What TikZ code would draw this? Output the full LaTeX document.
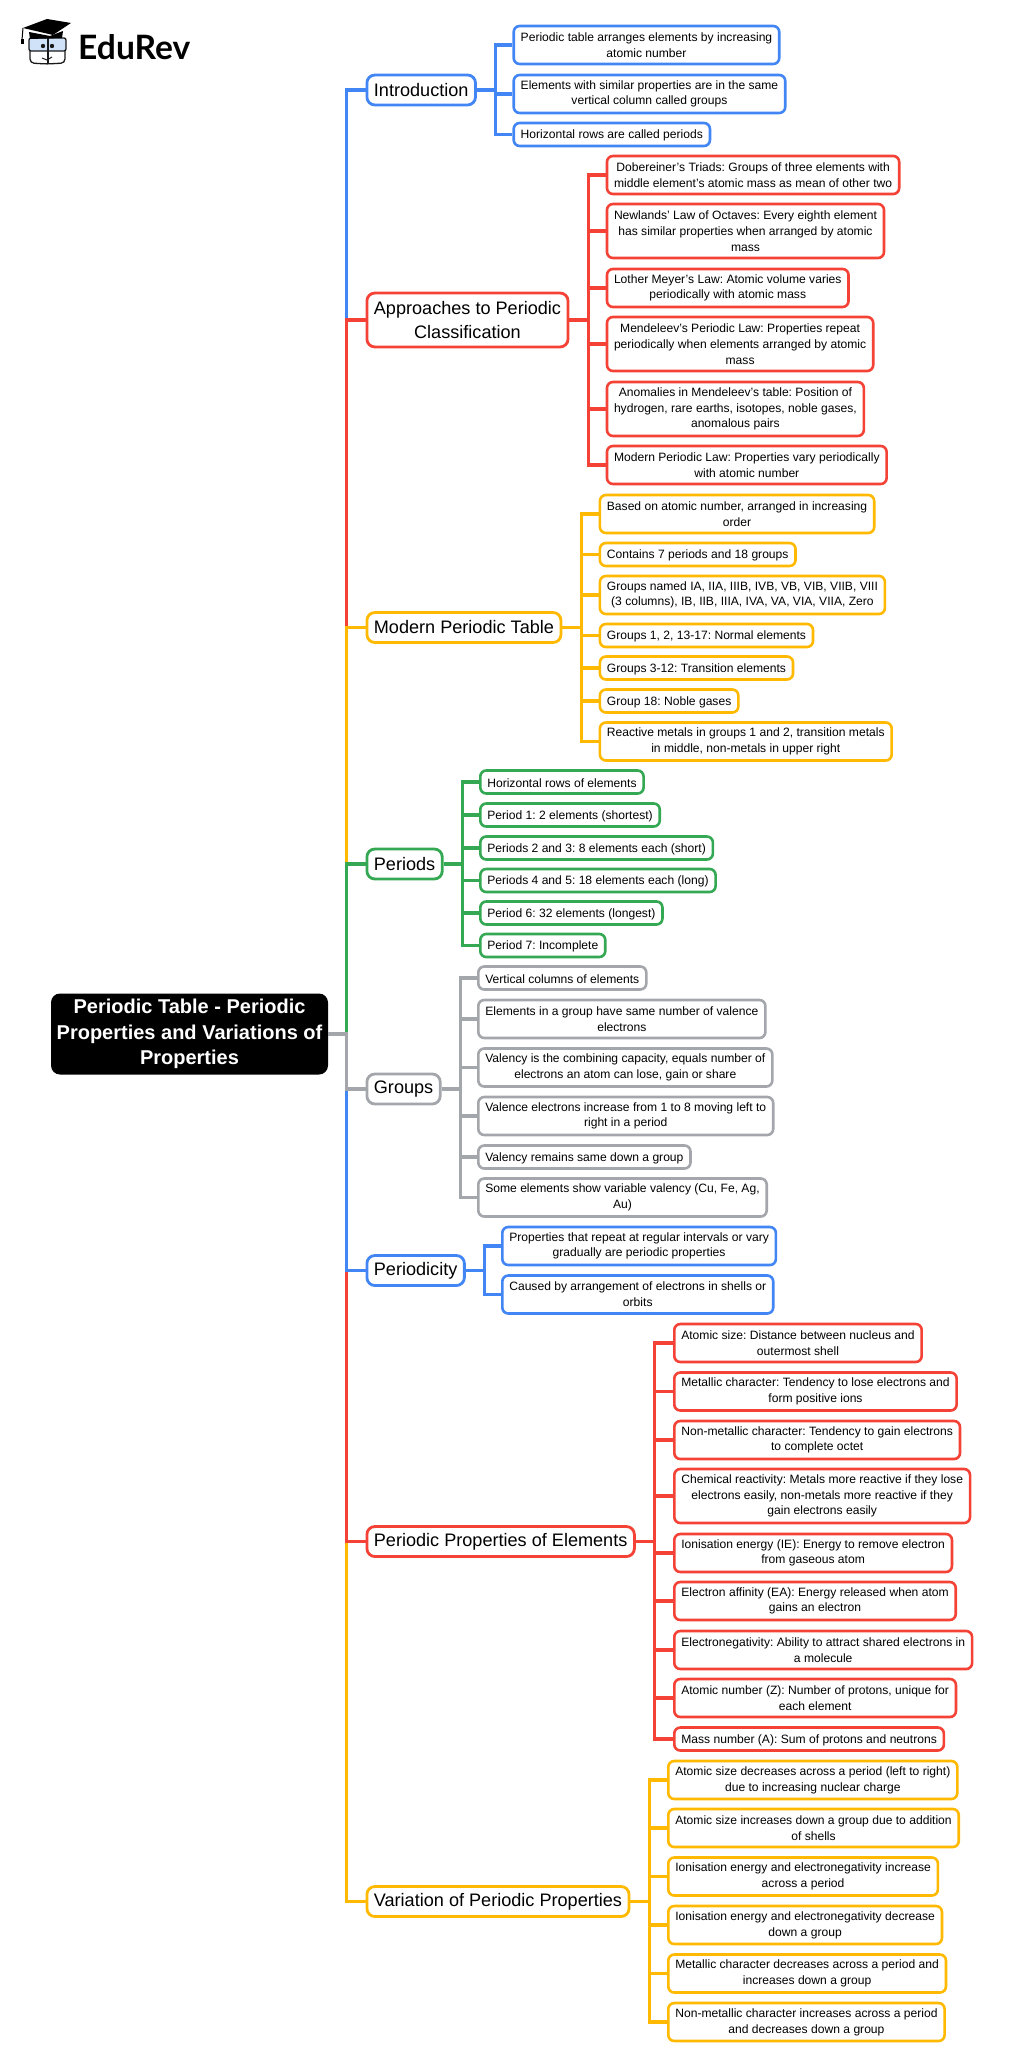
\documentclass[tikz,border=0pt]{standalone}
\usepackage{fontspec}
\setmainfont{Liberation Sans}
\newfontfamily\logofont{Lato}
\usetikzlibrary{positioning}

\definecolor{treeblue}{HTML}{4285F4}
\definecolor{treered}{HTML}{F44336}
\definecolor{treeyellow}{HTML}{FFB900}
\definecolor{treegreen}{HTML}{34A853}
\definecolor{treegray}{HTML}{A3A6AA}
\definecolor{glass}{HTML}{CFE2F7}
\definecolor{inkdark}{HTML}{1A1A1A}

\begin{document}
\frenchspacing
\begin{tikzpicture}[
        x=1pt, y=-1pt,
        root_node/.style = {
            fill=black,
            text=white,
            rectangle,
            rounded corners=9pt,
            minimum width=277pt,
            minimum height=81pt,
            inner sep=0pt,
            align=center,
            execute at begin node={\rule{0pt}{20.5pt}},
            font=\bfseries\fontsize{20}{25.7}\selectfont
        },
        topic_node/.style = {
            draw,
            fill=white,
            rectangle,
            anchor=west,
            line width=2.8pt,
            rounded corners=8pt,
            inner xsep=7pt,
            inner ysep=0pt,
            minimum height=30pt,
            align=center,
            font=\fontsize{18.1}{23.5}\selectfont
        },
        leaf_node/.style = {
            draw,
            fill=white,
            rectangle,
            anchor=west,
            line width=2.6pt,
            rounded corners=6pt,
            inner xsep=7pt,
            inner ysep=0pt,
            minimum height=23pt,
            align=center,
            execute at begin node={\rule{0pt}{10.5pt}},
            font=\fontsize{12.1}{15.7}\selectfont
        },
        two_line/.style = {minimum height=38pt},
        three_line/.style = {minimum height=54pt},
        blue_leaf/.style = {leaf_node, draw=treeblue},
        red_leaf/.style = {leaf_node, draw=treered},
        yellow_leaf/.style = {leaf_node, draw=treeyellow},
        green_leaf/.style = {leaf_node, draw=treegreen},
        gray_leaf/.style = {leaf_node, draw=treegray},
        blue_link/.style = {draw=treeblue, line width=3.2pt},
        red_link/.style = {draw=treered, line width=3.2pt},
        yellow_link/.style = {draw=treeyellow, line width=3.2pt},
        green_link/.style = {draw=treegreen, line width=3.2pt},
        gray_link/.style = {draw=treegray, line width=3.2pt}
    ]

    \useasboundingbox (0,0) rectangle (1024,2068);

    % logo
    \node[anchor=west, inner sep=0pt, font=\logofont\bfseries\fontsize{33.6}{33.6}\selectfont] (logo) at (78,47) {EduRev};
    \draw[inkdark, line width=1.3pt, fill=glass, rounded corners=2pt] (29,38) rectangle (66,51);
    \draw[inkdark, line width=1.3pt, rounded corners=4pt] (30,51) -- (30,63) -- (47,64) -- (65,63) -- (65,51);
    \draw[inkdark, line width=1.1pt] (48,38) -- (48,64);
    \draw[inkdark, line width=1pt] (42,58) -- (47,60) -- (52,57);
    \fill[inkdark] (43,46) circle (2.2pt) (52,46) circle (2.2pt);
    \fill[black] (29,32) -- (30,39) -- (62,38) -- (63,31) -- (50,36) -- cycle;
    \fill[black] (23,28) -- (47,19) -- (71,23) -- (53,35) -- cycle;
    \draw[black, line width=1pt] (23,28) -- (22,40);
    \fill[black] (20.5,39) rectangle (23.5,44.5);

    \node[root_node] (root) at (189.5,1034) {Periodic Table - Periodic\\Properties and Variations of\\Properties};

    \node[topic_node, draw=treeblue] (intro) at (365.5,90) {Introduction};
    \node[topic_node, draw=treered, minimum height=54pt] (approach) at (365.5,320) {Approaches to Periodic\\Classification};
    \node[topic_node, draw=treeyellow] (modern) at (365.5,627.5) {Modern Periodic Table};
    \node[topic_node, draw=treegreen] (periods) at (365.5,864) {Periods};
    \node[topic_node, draw=treegray] (groups) at (365.5,1089) {Groups};
    \node[topic_node, draw=treeblue] (periodicity) at (365.5,1270.5) {Periodicity};
    \node[topic_node, draw=treered] (properties) at (365.5,1541.5) {Periodic Properties of Elements};
    \node[topic_node, draw=treeyellow] (variation) at (365.5,1901.5) {Variation of Periodic Properties};

    \node[blue_leaf, two_line] (intro1) at (512.4,45) {Periodic table arranges elements by increasing\\atomic number};
    \node[blue_leaf, two_line] (intro2) at (512.4,94) {Elements with similar properties are in the same\\vertical column called groups};
    \node[blue_leaf] (intro3) at (512.4,134.5) {Horizontal rows are called periods};

    \node[red_leaf, two_line] (approach1) at (605.7,175) {Dobereiner's Triads: Groups of three elements with\\middle element's atomic mass as mean of other two};
    \node[red_leaf, three_line] (approach2) at (605.7,231) {Newlands' Law of Octaves: Every eighth element\\has similar properties when arranged by atomic\\mass};
    \node[red_leaf, two_line] (approach3) at (605.7,288) {Lother Meyer's Law: Atomic volume varies\\periodically with atomic mass};
    \node[red_leaf, three_line] (approach4) at (605.7,344) {Mendeleev's Periodic Law: Properties repeat\\periodically when elements arranged by atomic\\mass};
    \node[red_leaf, three_line] (approach5) at (605.7,409) {Anomalies in Mendeleev's table: Position of\\hydrogen, rare earths, isotopes, noble gases,\\anomalous pairs};
    \node[red_leaf, two_line] (approach6) at (605.7,465) {Modern Periodic Law: Properties vary periodically\\with atomic number};

    \node[yellow_leaf, two_line] (modern1) at (598.6,514) {Based on atomic number, arranged in increasing\\order};
    \node[yellow_leaf] (modern2) at (598.6,554.5) {Contains 7 periods and 18 groups};
    \node[yellow_leaf, two_line] (modern3) at (598.6,595) {Groups named IA, IIA, IIIB, IVB, VB, VIB, VIIB, VIII\\(3 columns), IB, IIB, IIIA, IVA, VA, VIA, VIIA, Zero};
    \node[yellow_leaf] (modern4) at (598.6,635.5) {Groups 1, 2, 13-17: Normal elements};
    \node[yellow_leaf] (modern5) at (598.6,668) {Groups 3-12: Transition elements};
    \node[yellow_leaf] (modern6) at (598.6,701) {Group 18: Noble gases};
    \node[yellow_leaf, two_line] (modern7) at (598.6,741.5) {Reactive metals in groups 1 and 2, transition metals\\in middle, non-metals in upper right};

    \node[green_leaf] (period1) at (479,782) {Horizontal rows of elements};
    \node[green_leaf] (period2) at (479,815) {Period 1: 2 elements (shortest)};
    \node[green_leaf] (period3) at (479,848) {Periods 2 and 3: 8 elements each (short)};
    \node[green_leaf] (period4) at (479,880.5) {Periods 4 and 5: 18 elements each (long)};
    \node[green_leaf] (period5) at (479,913) {Period 6: 32 elements (longest)};
    \node[green_leaf] (period6) at (479,945.5) {Period 7: Incomplete};

    \node[gray_leaf] (group1) at (477,978) {Vertical columns of elements};
    \node[gray_leaf, two_line] (group2) at (477,1019) {Elements in a group have same number of valence\\electrons};
    \node[gray_leaf, two_line] (group3) at (477,1067.5) {Valency is the combining capacity, equals number of\\electrons an atom can lose, gain or share};
    \node[gray_leaf, two_line] (group4) at (477,1116) {Valence electrons increase from 1 to 8 moving left to\\right in a period};
    \node[gray_leaf] (group5) at (477,1157) {Valency remains same down a group};
    \node[gray_leaf, two_line] (group6) at (477,1197.5) {Some elements show variable valency (Cu, Fe, Ag,\\Au)};

    \node[blue_leaf, two_line] (repeat1) at (501,1246) {Properties that repeat at regular intervals or vary\\gradually are periodic properties};
    \node[blue_leaf, two_line] (repeat2) at (501,1294.5) {Caused by arrangement of electrons in shells or\\orbits};

    \node[red_leaf, two_line] (prop1) at (673,1343) {Atomic size: Distance between nucleus and\\outermost shell};
    \node[red_leaf, two_line] (prop2) at (673,1391.5) {Metallic character: Tendency to lose electrons and\\form positive ions};
    \node[red_leaf, two_line] (prop3) at (673,1440) {Non-metallic character: Tendency to gain electrons\\to complete octet};
    \node[red_leaf, three_line] (prop4) at (673,1496) {Chemical reactivity: Metals more reactive if they lose\\electrons easily, non-metals more reactive if they\\gain electrons easily};
    \node[red_leaf, two_line] (prop5) at (673,1553) {Ionisation energy (IE): Energy to remove electron\\from gaseous atom};
    \node[red_leaf, two_line] (prop6) at (673,1601) {Electron affinity (EA): Energy released when atom\\gains an electron};
    \node[red_leaf, two_line] (prop7) at (673,1650) {Electronegativity: Ability to attract shared electrons in\\a molecule};
    \node[red_leaf, two_line] (prop8) at (673,1698) {Atomic number (Z): Number of protons, unique for\\each element};
    \node[red_leaf] (prop9) at (673,1739) {Mass number (A): Sum of protons and neutrons};

    \node[yellow_leaf, two_line] (vary1) at (667,1780) {Atomic size decreases across a period (left to right)\\due to increasing nuclear charge};
    \node[yellow_leaf, two_line] (vary2) at (667,1828) {Atomic size increases down a group due to addition\\of shells};
    \node[yellow_leaf, two_line] (vary3) at (667,1876.5) {Ionisation energy and electronegativity increase\\across a period};
    \node[yellow_leaf, two_line] (vary4) at (667,1925) {Ionisation energy and electronegativity decrease\\down a group};
    \node[yellow_leaf, two_line] (vary5) at (667,1973.5) {Metallic character decreases across a period and\\increases down a group};
    \node[yellow_leaf, two_line] (vary6) at (667,2022) {Non-metallic character increases across a period\\and decreases down a group};

    % trunk, later links cover earlier ones
    \draw[blue_link] (root.east) -- ++(18.5,0) |- (intro.west);
    \draw[red_link] (root.east) -- ++(18.5,0) |- (approach.west);
    \draw[yellow_link] (root.east) -- ++(18.5,0) |- (modern.west);
    \draw[green_link] (root.east) -- ++(18.5,0) |- (periods.west);
    \draw[yellow_link] (root.east) -- ++(18.5,0) |- (variation.west);
    \draw[red_link] (root.east) -- ++(18.5,0) |- (properties.west);
    \draw[blue_link] (root.east) -- ++(18.5,0) |- (periodicity.west);
    \draw[gray_link] (root.east) -- ++(18.5,0) |- (groups.west);

    \draw[blue_link] (intro.east) -- ++(19,0) |- (intro1.west);
    \draw[blue_link] (intro.east) -- ++(19,0) |- (intro2.west);
    \draw[blue_link] (intro.east) -- ++(19,0) |- (intro3.west);

    \draw[red_link] (approach.east) -- ++(19,0) |- (approach1.west);
    \draw[red_link] (approach.east) -- ++(19,0) |- (approach2.west);
    \draw[red_link] (approach.east) -- ++(19,0) |- (approach3.west);
    \draw[red_link] (approach.east) -- ++(19,0) |- (approach4.west);
    \draw[red_link] (approach.east) -- ++(19,0) |- (approach5.west);
    \draw[red_link] (approach.east) -- ++(19,0) |- (approach6.west);

    \draw[yellow_link] (modern.east) -- ++(19,0) |- (modern1.west);
    \draw[yellow_link] (modern.east) -- ++(19,0) |- (modern2.west);
    \draw[yellow_link] (modern.east) -- ++(19,0) |- (modern3.west);
    \draw[yellow_link] (modern.east) -- ++(19,0) |- (modern4.west);
    \draw[yellow_link] (modern.east) -- ++(19,0) |- (modern5.west);
    \draw[yellow_link] (modern.east) -- ++(19,0) |- (modern6.west);
    \draw[yellow_link] (modern.east) -- ++(19,0) |- (modern7.west);

    \draw[green_link] (periods.east) -- ++(19,0) |- (period1.west);
    \draw[green_link] (periods.east) -- ++(19,0) |- (period2.west);
    \draw[green_link] (periods.east) -- ++(19,0) |- (period3.west);
    \draw[green_link] (periods.east) -- ++(19,0) |- (period4.west);
    \draw[green_link] (periods.east) -- ++(19,0) |- (period5.west);
    \draw[green_link] (periods.east) -- ++(19,0) |- (period6.west);

    \draw[gray_link] (groups.east) -- ++(19,0) |- (group1.west);
    \draw[gray_link] (groups.east) -- ++(19,0) |- (group2.west);
    \draw[gray_link] (groups.east) -- ++(19,0) |- (group3.west);
    \draw[gray_link] (groups.east) -- ++(19,0) |- (group4.west);
    \draw[gray_link] (groups.east) -- ++(19,0) |- (group5.west);
    \draw[gray_link] (groups.east) -- ++(19,0) |- (group6.west);

    \draw[blue_link] (periodicity.east) -- ++(19,0) |- (repeat1.west);
    \draw[blue_link] (periodicity.east) -- ++(19,0) |- (repeat2.west);

    \draw[red_link] (properties.east) -- ++(19,0) |- (prop1.west);
    \draw[red_link] (properties.east) -- ++(19,0) |- (prop2.west);
    \draw[red_link] (properties.east) -- ++(19,0) |- (prop3.west);
    \draw[red_link] (properties.east) -- ++(19,0) |- (prop4.west);
    \draw[red_link] (properties.east) -- ++(19,0) |- (prop5.west);
    \draw[red_link] (properties.east) -- ++(19,0) |- (prop6.west);
    \draw[red_link] (properties.east) -- ++(19,0) |- (prop7.west);
    \draw[red_link] (properties.east) -- ++(19,0) |- (prop8.west);
    \draw[red_link] (properties.east) -- ++(19,0) |- (prop9.west);

    \draw[yellow_link] (variation.east) -- ++(19,0) |- (vary1.west);
    \draw[yellow_link] (variation.east) -- ++(19,0) |- (vary2.west);
    \draw[yellow_link] (variation.east) -- ++(19,0) |- (vary3.west);
    \draw[yellow_link] (variation.east) -- ++(19,0) |- (vary4.west);
    \draw[yellow_link] (variation.east) -- ++(19,0) |- (vary5.west);
    \draw[yellow_link] (variation.east) -- ++(19,0) |- (vary6.west);

\end{tikzpicture}
\end{document}
